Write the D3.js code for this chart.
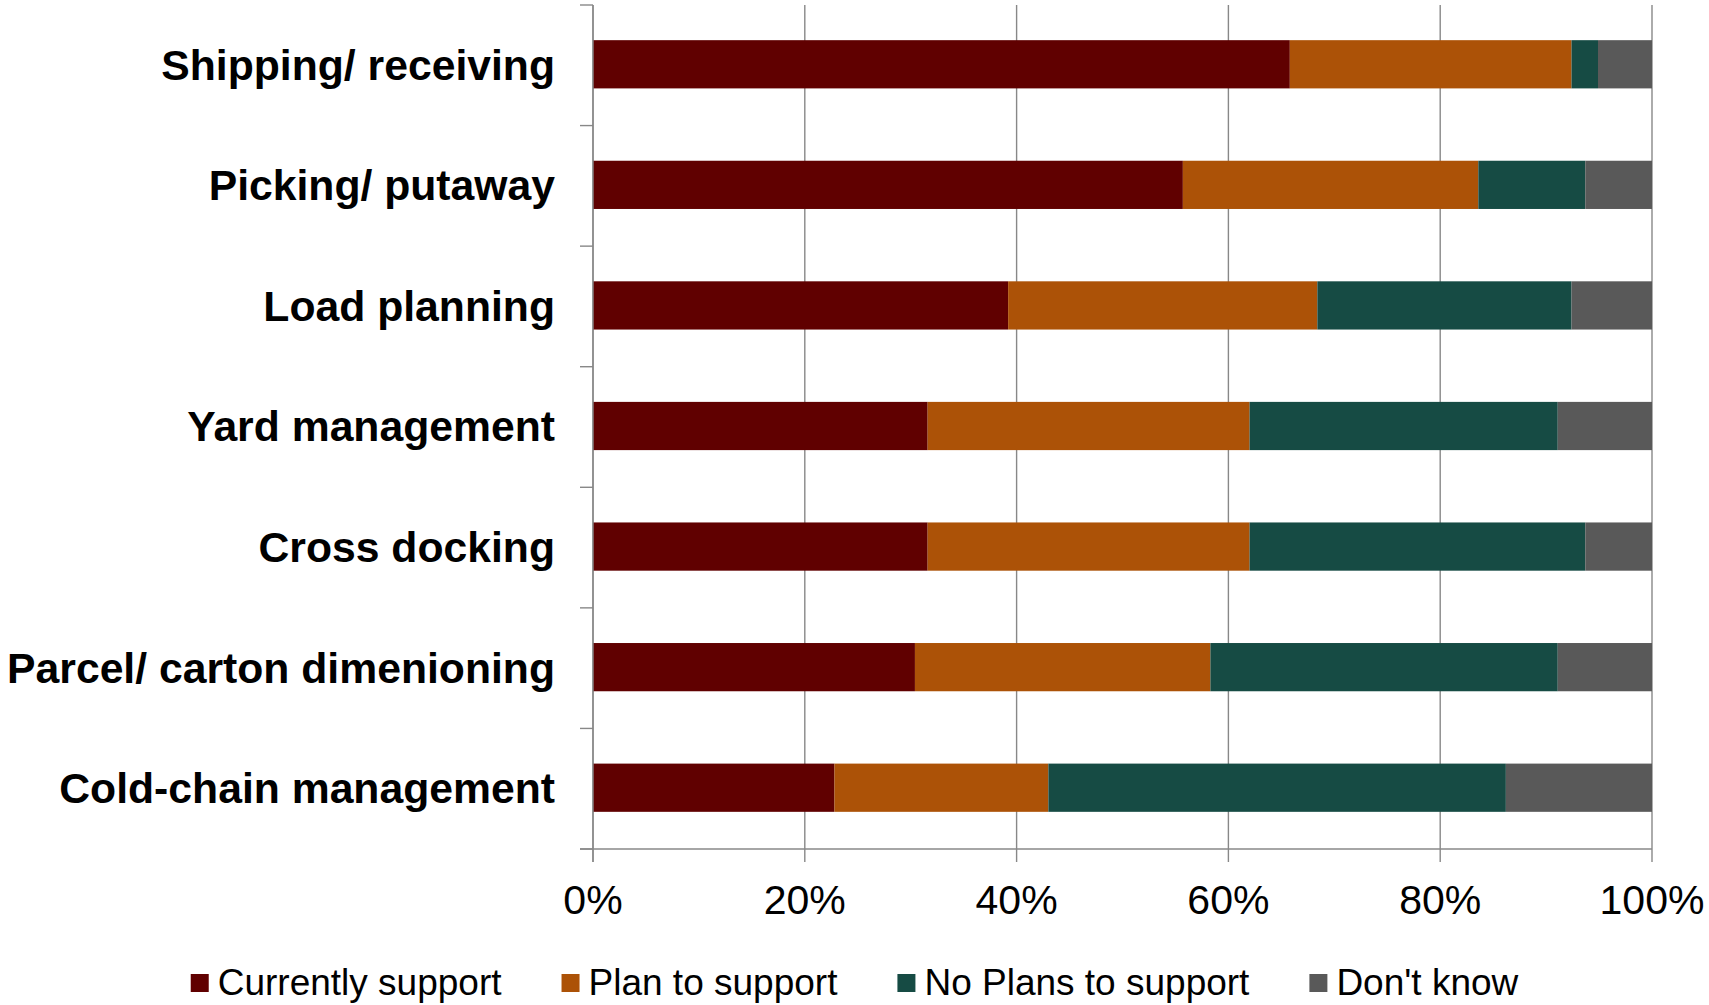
<!DOCTYPE html>
<html>
<head>
<meta charset="utf-8">
<script src="https://cdn.jsdelivr.net/npm/d3@7"></script>
<style>
  html, body { margin: 0; padding: 0; background: #ffffff; }
  svg { display: block; }
  text { font-family: "Liberation Sans", Arial, sans-serif; fill: #000; }
</style>
</head>
<body>
<svg id="chart" width="1709" height="1005"></svg>
<script>
// Warehouse capability support, share of respondents (%)
const categories = [
  "Shipping/ receiving",
  "Picking/ putaway",
  "Load planning",
  "Yard management",
  "Cross docking",
  "Parcel/ carton dimenioning",
  "Cold-chain management"
];
const seriesNames = ["Currently support", "Plan to support", "No Plans to support", "Don't know"];
const currentlySupport = [65.8, 55.7, 39.2, 31.6, 31.6, 30.4, 22.8];
const planToSupport    = [26.6, 27.9, 29.2, 30.4, 30.4, 27.9, 20.2];
const noPlansToSupport = [2.5, 10.1, 24.0, 29.1, 31.7, 32.8, 43.2];
const dontKnow         = [5.1, 6.3, 7.6, 8.9, 6.3, 8.9, 13.8];
const xTickValues = [0, 20, 40, 60, 80, 100];
const colors = ["#600000", "#ac5207", "#164b44", "#595959"];

(function draw() {
  const seriesValues = [currentlySupport, planToSupport, noPlansToSupport, dontKnow];
  const rows = categories.map((c, i) => {
    const r = { category: c };
    seriesNames.forEach((s, k) => { r[s] = seriesValues[k][i]; });
    return r;
  });

  const svg = d3.select("#chart");
  const plotLeft = 593, plotRight = 1652, plotTop = 5, plotBottom = 849;
  const gridColor = "#888888";

  const x = d3.scaleLinear().domain([0, 100]).range([plotLeft, plotRight]);
  const y = d3.scaleBand().domain(categories).range([plotTop, plotBottom])
    .paddingInner(0.6).paddingOuter(0.3);

  // vertical gridlines, extending below the baseline as tick marks
  svg.append("g").selectAll("line").data(xTickValues).join("line")
    .attr("x1", d => x(d)).attr("x2", d => x(d))
    .attr("y1", plotTop).attr("y2", plotBottom + 13)
    .attr("stroke", gridColor).attr("stroke-width", 1.4);

  // baseline
  svg.append("line")
    .attr("x1", plotLeft - 13).attr("x2", plotRight)
    .attr("y1", plotBottom).attr("y2", plotBottom)
    .attr("stroke", gridColor).attr("stroke-width", 1.4);

  // category ticks at band boundaries
  const step = y.step();
  const boundaries = categories.map(c => y(c) - step * y.paddingInner() / 2);
  boundaries.push(plotBottom);
  svg.append("g").selectAll("line").data(boundaries).join("line")
    .attr("x1", plotLeft - 13).attr("x2", plotLeft)
    .attr("y1", d => d).attr("y2", d => d)
    .attr("stroke", gridColor).attr("stroke-width", 1.4);

  // stacked bars
  const stacked = d3.stack().keys(seriesNames)(rows);
  svg.append("g").selectAll("g").data(stacked).join("g")
    .attr("fill", (d, i) => colors[i])
    .selectAll("rect").data(d => d).join("rect")
    .attr("x", d => x(d[0]))
    .attr("width", d => x(d[1]) - x(d[0]))
    .attr("y", d => y(d.data.category) - 1)
    .attr("height", y.bandwidth());

  // category axis line
  svg.append("line")
    .attr("x1", plotLeft).attr("x2", plotLeft)
    .attr("y1", plotTop).attr("y2", plotBottom + 13)
    .attr("stroke", gridColor).attr("stroke-width", 1.4);

  // category labels
  svg.append("g").selectAll("text").data(categories).join("text")
    .attr("x", plotLeft - 38)
    .attr("y", d => y(d) + y.bandwidth() / 2 - 1)
    .attr("dy", "0.36em")
    .attr("text-anchor", "end")
    .style("font-size", "42.7px")
    .style("font-weight", "bold")
    .text(d => d);

  // percentage tick labels
  svg.append("g").selectAll("text").data(xTickValues).join("text")
    .attr("x", d => x(d))
    .attr("y", 914)
    .attr("text-anchor", "middle")
    .style("font-size", "41px")
    .text(d => d + "%");

  // legend, centred under the chart
  const legend = svg.append("g");
  const items = legend.selectAll("g").data(seriesNames).join("g");
  items.append("rect")
    .attr("width", 18).attr("height", 18)
    .attr("y", 974)
    .attr("fill", (d, i) => colors[i]);
  items.append("text")
    .attr("x", 27).attr("y", 995)
    .style("font-size", "37px")
    .text(d => d);
  const widths = [];
  items.each(function () {
    widths.push(27 + this.querySelector("text").getComputedTextLength());
  });
  const gap = 60;
  const total = d3.sum(widths) + gap * (widths.length - 1);
  let cursor = (1709 - total) / 2;
  items.attr("transform", (d, i) => {
    const t = `translate(${cursor},0)`;
    cursor += widths[i] + gap;
    return t;
  });
})();
</script>
</body>
</html>
